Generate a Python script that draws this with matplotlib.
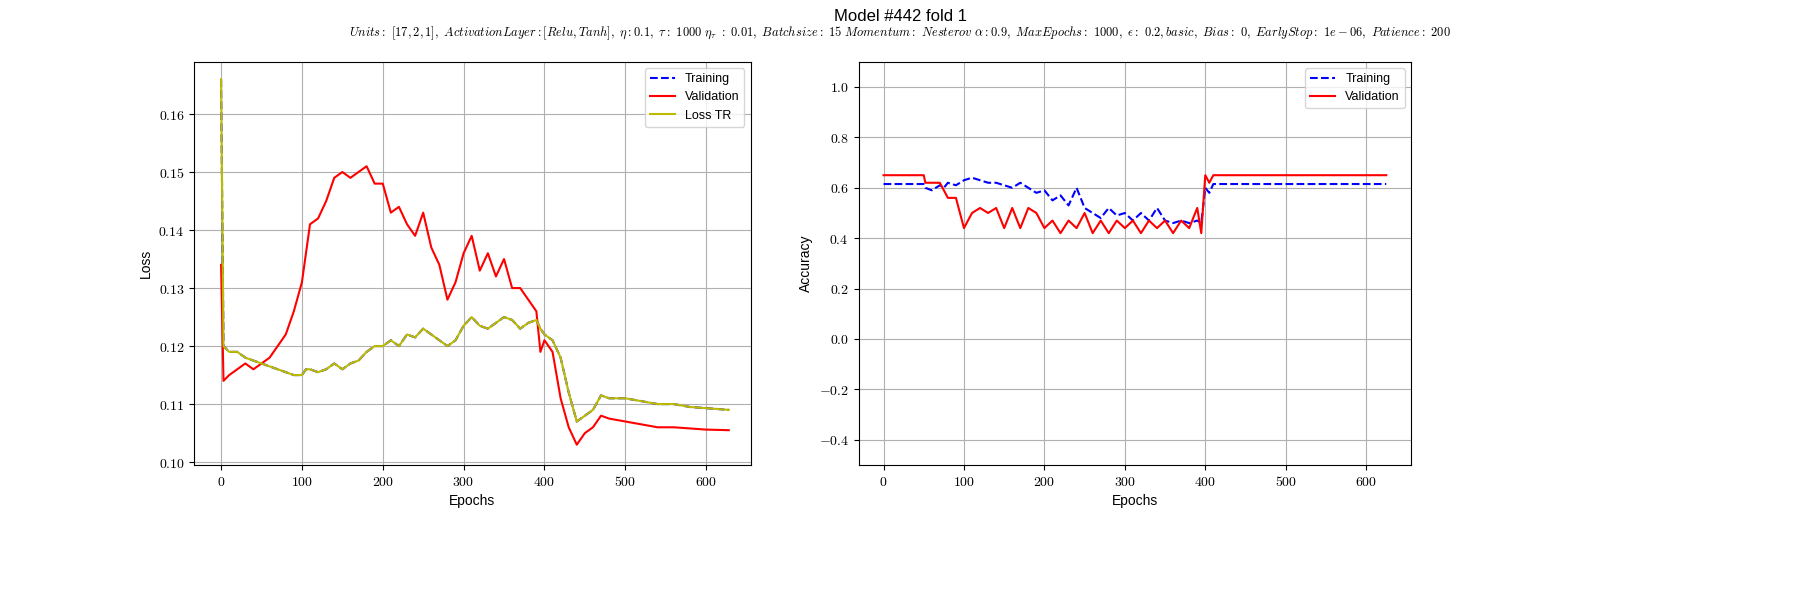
import matplotlib.pyplot as plt
from matplotlib.ticker import FuncFormatter

# loss curves
loss_epochs = [0, 3, 10, 20, 30, 40, 50, 60, 70, 80, 90, 100, 105, 110, 120, 130, 140, 150, 160, 170,
               180, 190, 200, 210, 220, 230, 240, 250, 260, 270, 280, 290, 300, 310, 320, 330, 340, 350,
               360, 370, 380, 390, 395, 400, 410, 420, 430, 440, 450, 460, 470, 480, 500, 520, 540, 560,
               580, 600, 628]
val_loss = [0.134, 0.114, 0.115, 0.116, 0.117, 0.116, 0.117, 0.118, 0.120, 0.122, 0.126, 0.131, 0.136,
            0.141, 0.142, 0.145, 0.149, 0.150, 0.149, 0.150, 0.151, 0.148, 0.148, 0.143, 0.144, 0.141,
            0.139, 0.143, 0.137, 0.134, 0.128, 0.131, 0.136, 0.139, 0.133, 0.136, 0.132, 0.135, 0.130,
            0.130, 0.128, 0.126, 0.119, 0.121, 0.119, 0.111, 0.106, 0.103, 0.105, 0.106, 0.108, 0.1075,
            0.107, 0.1065, 0.106, 0.106, 0.1058, 0.1056, 0.1055]
tr_loss = [0.166, 0.120, 0.119, 0.119, 0.118, 0.1175, 0.117, 0.1165, 0.116, 0.1155, 0.115, 0.115, 0.116,
           0.116, 0.1155, 0.116, 0.117, 0.116, 0.117, 0.1175, 0.119, 0.120, 0.120, 0.121, 0.120, 0.122,
           0.1215, 0.123, 0.122, 0.121, 0.120, 0.121, 0.1235, 0.125, 0.1235, 0.123, 0.124, 0.125, 0.1245,
           0.123, 0.124, 0.1245, 0.123, 0.122, 0.121, 0.118, 0.112, 0.107, 0.108, 0.109, 0.1115, 0.111,
           0.111, 0.1105, 0.110, 0.110, 0.1095, 0.1093, 0.109]

# accuracy curves
acc_epochs = [0, 50, 52, 60, 70, 75, 80, 90, 100, 110, 120, 130, 140, 150, 160, 170, 180, 190, 200,
              210, 220, 230, 240, 250, 260, 270, 280, 290, 300, 310, 320, 330, 340, 350, 360, 370, 380,
              390, 395, 400, 405, 410, 625]
tr_acc = [0.615, 0.615, 0.60, 0.59, 0.61, 0.60, 0.62, 0.61, 0.63, 0.64, 0.63, 0.62, 0.62, 0.61, 0.60,
          0.62, 0.60, 0.58, 0.59, 0.55, 0.57, 0.53, 0.60, 0.52, 0.50, 0.48, 0.52, 0.49, 0.50, 0.47, 0.50,
          0.47, 0.52, 0.47, 0.46, 0.47, 0.46, 0.47, 0.46, 0.60, 0.58, 0.615, 0.615]
val_acc = [0.65, 0.65, 0.62, 0.62, 0.62, 0.59, 0.56, 0.56, 0.44, 0.50, 0.52, 0.50, 0.52, 0.44, 0.52,
           0.44, 0.52, 0.50, 0.44, 0.47, 0.42, 0.47, 0.44, 0.50, 0.42, 0.47, 0.42, 0.47, 0.44, 0.47, 0.42,
           0.47, 0.44, 0.47, 0.42, 0.47, 0.44, 0.52, 0.42, 0.65, 0.62, 0.65, 0.65]

subtitle = (r"$Units:\ [17,2,1],\ ActivationLayer:[Relu,Tanh],\ \eta:0.1,\ \tau:\ 1000\ \eta_\tau\ :\ 0.01,"
            r"\ Batchsize:\ 15\ Momentum:\ Nesterov\ \alpha:0.9,\ MaxEpochs:\ 1000,\ \epsilon:\ 0.2,basic,"
            r"\ Bias:\ 0,\ EarlyStop:\ 1e-06,\ Patience:\ 200$")


def main():
    plt.rcParams['mathtext.fontset'] = 'cm'
    plt.rcParams['font.family'] = ['Liberation Sans', 'DejaVu Sans']
    fmt_int = FuncFormatter(lambda v, p: f"${v:.0f}$")
    fmt_loss = FuncFormatter(lambda v, p: f"${v:.2f}$")
    fmt_acc = FuncFormatter(lambda v, p: f"${v:.1f}$")

    fig = plt.figure(figsize=(18, 6), dpi=100)
    fig.suptitle('Model #442 fold 1', y=0.985, fontsize=12)
    fig.text(0.5, 0.94, subtitle, ha='center', fontsize=9)

    ax1 = fig.add_axes([0.108, 0.225, 0.309, 0.672])
    ax1.plot(loss_epochs, tr_loss, 'b--', label='Training')
    ax1.plot(loss_epochs, val_loss, 'r-', label='Validation')
    ax1.plot(loss_epochs, tr_loss, '-', color='#bbbb00', label='Loss TR')
    ax1.set_xlim(-33, 655)
    ax1.set_ylim(0.0995, 0.169)
    ax1.set_xlabel('Epochs')
    ax1.set_ylabel('Loss')
    ax1.grid(True)
    ax1.legend(loc='upper right', fontsize=9)
    ax1.yaxis.set_major_formatter(fmt_loss)

    ax2 = fig.add_axes([0.477, 0.225, 0.307, 0.672])
    ax2.plot(acc_epochs, tr_acc, 'b--', label='Training')
    ax2.plot(acc_epochs, val_acc, 'r-', label='Validation')
    ax2.set_xlim(-31, 656)
    ax2.set_ylim(-0.5, 1.1)
    ax2.set_xlabel('Epochs')
    ax2.set_ylabel('Accuracy')
    ax2.grid(True)
    ax2.legend(loc='upper right', fontsize=9)
    ax2.yaxis.set_major_formatter(fmt_acc)

    for ax in (ax1, ax2):
        ax.xaxis.set_major_formatter(fmt_int)
        ax.tick_params(labelsize=10)

    plt.savefig('out.png')


if __name__ == '__main__':
    main()
